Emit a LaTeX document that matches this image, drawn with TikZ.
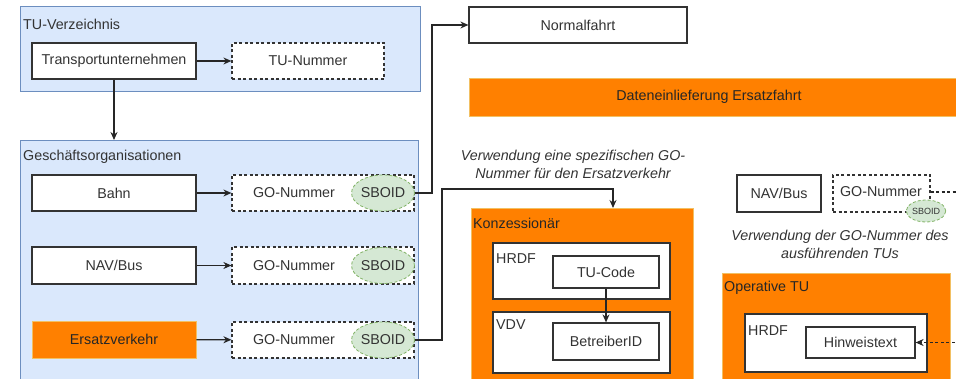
\documentclass[tikz,border=0pt]{standalone}
\usepackage{fontspec}
\setmainfont{Liberation Sans}
\usetikzlibrary{arrows.meta,shapes.geometric}
\definecolor{blaufill}{HTML}{DAE8FC}
\definecolor{blaurand}{HTML}{6C8EBF}
\definecolor{dorange}{HTML}{FF8000}
\definecolor{orangerand}{HTML}{F2C063}
\definecolor{gruenfill}{HTML}{D5E8D4}
\definecolor{gruenrand}{HTML}{82B366}
\definecolor{schrift}{HTML}{333333}

\begin{document}
\begin{tikzpicture}[x=1pt,y=-1pt,font=\fontsize{14.3}{17}\selectfont,text=schrift]
        \tikzstyle{every node}=[inner sep=0pt]
        \tikzstyle{gruppe}=[draw=blaurand,fill=blaufill,line width=0.8pt,anchor=north west]
        \tikzstyle{orangefeld}=[draw=orangerand,fill=dorange,line width=0.8pt,anchor=north west]
        \tikzstyle{kasten}=[draw=black!80,fill=white,line width=1.2pt,minimum height=36pt]
        \tikzstyle{nummer}=[kasten,dash pattern=on 3pt off 2.5pt]
        \tikzstyle{sboid}=[ellipse,fill=gruenfill,draw=gruenrand,dash pattern=on 3pt off 2pt,line width=0.8pt,minimum width=60pt,minimum height=36pt]
        \tikzstyle{titel}=[anchor=west]
        \tikzstyle{pfeil}=[-{Stealth[length=8pt,width=7pt]},line width=1.2pt,draw=black!85]
        \tikzstyle{hinweis}=[align=center,font=\fontsize{14.3}{18}\selectfont\itshape]
        \useasboundingbox (0,0) rectangle (956,379);
        \clip (0,0) rectangle (956,379);
        % TU-Verzeichnis
        \node[gruppe,minimum width=400pt,minimum height=85pt] (tuv) at (20,6) {};
        \node[titel] (tuvtitel) at (23,24) {TU-Verzeichnis};
        \node[kasten,minimum width=164pt] (tu) at (114,61) {Transportunternehmen};
        \node[nummer,minimum width=152pt] (tunr) at (308,61) {TU-Nummer};
        % Geschaeftsorganisationen
        \node[gruppe,minimum width=398pt,minimum height=260pt] (go) at (20,140) {};
        \node[titel] (gotitel) at (23,157) {Geschäftsorganisationen};
        \node[kasten,minimum width=164pt] (bahn) at (114,193) {Bahn};
        \node[nummer,minimum width=182pt] (gobahn) at (323,193) {};
        \node (gobahntxt) at (294,193) {GO-Nummer};
        \node[sboid] (sbbahn) at (383,193) {SBOID};
        \node[kasten,minimum width=164pt,minimum height=37pt] (nav) at (114,265.5) {NAV/Bus};
        \node[nummer,minimum width=182pt,minimum height=37pt] (gonav) at (323,265.5) {};
        \node (gonavtxt) at (294,265.5) {GO-Nummer};
        \node[sboid] (sbnav) at (383,265.5) {SBOID};
        \node[orangefeld,anchor=center,minimum width=164pt,minimum height=37pt,text=black!85] (ersatz) at (114,339.5) {Ersatzverkehr};
        \node[nummer,minimum width=182pt] (goers) at (323,340) {};
        \node (goerstxt) at (294,340) {GO-Nummer};
        \node[sboid] (sbers) at (383,340) {SBOID};
        % Fahrten
        \node[kasten,minimum width=218pt] (normal) at (578,25) {Normalfahrt};
        \node[orangefeld,minimum width=491pt,minimum height=38pt] (daten) at (469,78) {};
        \node[text=black!85] (datentxt) at (709,97) {Dateneinlieferung Ersatzfahrt};
        \node[hinweis] (notiz1) at (573,164) {Verwendung eine spezifischen GO-\\Nummer für den Ersatzverkehr};
        % Konzessionaer
        \node[orangefeld,minimum width=222pt,minimum height=200pt] (konz) at (471,208) {};
        \node[titel,text=black!85] (konztitel) at (473,223) {Konzessionär};
        \node[kasten,minimum width=177pt,minimum height=56pt] (hrdf1) at (581.5,271) {};
        \node[anchor=north west] (hrdf1titel) at (496,253) {HRDF};
        \node[kasten,minimum width=106pt,minimum height=32pt] (tucode) at (606,272) {TU-Code};
        \node[kasten,minimum width=177pt,minimum height=61pt] (vdv) at (581.5,342.5) {};
        \node[anchor=north west] (vdvtitel) at (496,319) {VDV};
        \node[kasten,minimum width=106pt,minimum height=37pt] (betr) at (606,341.5) {BetreiberID};
        % Operative TU
        \node[kasten,minimum width=84pt,minimum height=37pt] (nav2) at (779,193.5) {NAV/Bus};
        \node[nummer,minimum width=97pt,minimum height=37pt] (go2) at (881.5,193.5) {};
        \node (go2txt) at (881,192) {GO-Nummer};
        \node[sboid,minimum width=38pt,minimum height=22pt,font=\fontsize{9}{10}\selectfont] (sb2) at (926,211) {SBOID};
        \node[hinweis] (notiz2) at (840,244) {Verwendung der GO-Nummer des\\ausführenden TUs};
        \node[orangefeld,minimum width=228pt,minimum height=130pt] (optu) at (722,273) {};
        \node[titel,text=black!85] (optutitel) at (724,288) {Operative TU};
        \node[kasten,minimum width=182pt,minimum height=58pt] (hrdf2) at (836,343) {};
        \node[anchor=north west] (hrdf2titel) at (748,325) {HRDF};
        \node[kasten,minimum width=109pt,minimum height=31pt] (hinw) at (860.5,342.5) {Hinweistext};
        % Verbindungen
        \coordinate (k1) at (432,25);
        \coordinate (k2) at (442,189);
        \coordinate (k3) at (613,189);
        \coordinate (rand1) at (960,192);
        \coordinate (rand2) at (960,342.5);
        \draw[pfeil] (tu) -- (tunr);
        \draw[pfeil] (tu) -- (tu |- go.north);
        \draw[pfeil] (bahn) -- (gobahn);
        \draw[pfeil] (nav) -- (gonav);
        \draw[pfeil] (ersatz) -- (goers);
        \draw[pfeil] (gobahn.east) -| (k1) -- (normal.west);
        \draw[pfeil] (goers.east) -| (k2) -- (k3) -- (k3 |- konz.north);
        \draw[pfeil] (tucode) -- (betr);
        \draw[line width=1.2pt,draw=black!85,dash pattern=on 3pt off 2.5pt] (go2.east |- rand1) -- (rand1);
        \draw[pfeil,dash pattern=on 3pt off 2.5pt] (rand2) -- (hinw.east);
\end{tikzpicture}
\end{document}
